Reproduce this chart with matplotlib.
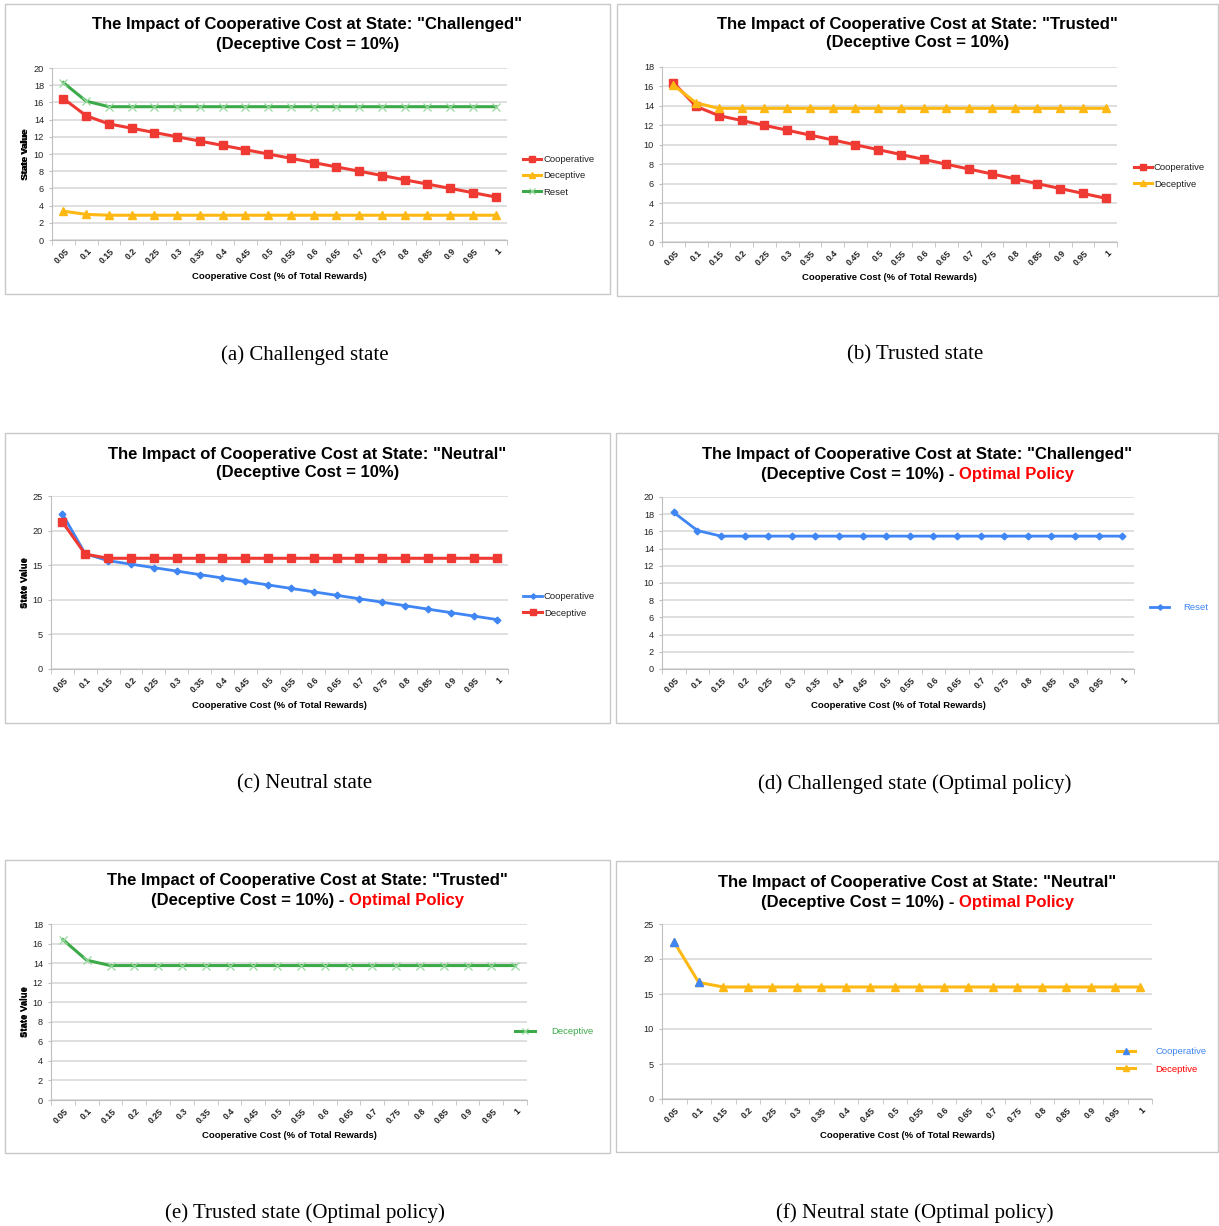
import matplotlib
matplotlib.use('Agg')
import matplotlib.pyplot as plt
import matplotlib.transforms as mtransforms
from matplotlib.lines import Line2D
from matplotlib.patches import Rectangle
from matplotlib.ticker import MultipleLocator

plt.rcParams['font.family'] = 'Liberation Sans'

costLabels = ['0.05', '0.1', '0.15', '0.2', '0.25', '0.3', '0.35', '0.4', '0.45', '0.5',
              '0.55', '0.6', '0.65', '0.7', '0.75', '0.8', '0.85', '0.9', '0.95', '1']

# state values for each action, one value per cooperative cost
challengedCoop = [16.45, 14.45, 13.5, 13.0, 12.5, 12.0, 11.5, 11.0, 10.5, 10.0,
                  9.5, 9.0, 8.5, 8.0, 7.5, 7.0, 6.5, 6.0, 5.5, 5.0]
challengedDecep = [3.35, 2.98, 2.88, 2.88, 2.88, 2.88, 2.88, 2.88, 2.88, 2.88,
                   2.88, 2.88, 2.88, 2.88, 2.88, 2.88, 2.88, 2.88, 2.88, 2.88]
challengedReset = [18.3, 16.15, 15.5, 15.5, 15.5, 15.5, 15.5, 15.5, 15.5, 15.5,
                   15.5, 15.5, 15.5, 15.5, 15.5, 15.5, 15.5, 15.5, 15.5, 15.5]

trustedCoop = [16.4, 13.95, 13.0, 12.5, 12.0, 11.5, 11.0, 10.5, 10.0, 9.5,
               9.0, 8.5, 8.0, 7.5, 7.0, 6.5, 6.0, 5.5, 5.0, 4.5]
trustedDecep = [16.15, 14.3, 13.75, 13.75, 13.75, 13.75, 13.75, 13.75, 13.75, 13.75,
                13.75, 13.75, 13.75, 13.75, 13.75, 13.75, 13.75, 13.75, 13.75, 13.75]

neutralCoop = [22.4, 16.65, 15.65, 15.15, 14.65, 14.15, 13.65, 13.15, 12.65, 12.15,
               11.65, 11.15, 10.65, 10.15, 9.65, 9.15, 8.65, 8.15, 7.65, 7.15]
neutralDecep = [21.25, 16.6, 16.0, 16.0, 16.0, 16.0, 16.0, 16.0, 16.0, 16.0,
                16.0, 16.0, 16.0, 16.0, 16.0, 16.0, 16.0, 16.0, 16.0, 16.0]

# values under the optimal policy
challengedOptimal = [18.2, 16.1, 15.45, 15.45, 15.45, 15.45, 15.45, 15.45, 15.45, 15.45,
                     15.45, 15.45, 15.45, 15.45, 15.45, 15.45, 15.45, 15.45, 15.45, 15.45]
trustedOptimal = [16.4, 14.3, 13.75, 13.75, 13.75, 13.75, 13.75, 13.75, 13.75, 13.75,
                  13.75, 13.75, 13.75, 13.75, 13.75, 13.75, 13.75, 13.75, 13.75, 13.75]
neutralOptimal = [22.4, 16.65, 16.0, 16.0, 16.0, 16.0, 16.0, 16.0, 16.0, 16.0,
                  16.0, 16.0, 16.0, 16.0, 16.0, 16.0, 16.0, 16.0, 16.0, 16.0]
neutralPolicy = ['Cooperative', 'Cooperative', 'Deceptive', 'Deceptive', 'Deceptive',
                 'Deceptive', 'Deceptive', 'Deceptive', 'Deceptive', 'Deceptive',
                 'Deceptive', 'Deceptive', 'Deceptive', 'Deceptive', 'Deceptive',
                 'Deceptive', 'Deceptive', 'Deceptive', 'Deceptive', 'Deceptive']

RED = '#EE3A33'
YELLOW = '#FDB813'
GREEN = '#3DAA4A'
LIGHTGREEN = '#96D89C'
BLUE = '#3F86F4'
GRID = '#D9D9D9'
AXIS = '#BFBFBF'

W, H = 1219, 1226
fig = plt.figure(figsize=(W / 100, H / 100), dpi=100)
renderer = fig.canvas.get_renderer()


def fx(px):
    return px / W


def fy(py):
    return 1 - py / H


def makeAxes(box, axRect, ymax, ystep):
    l, t, r, b = box
    fig.add_artist(Rectangle((fx(l), fy(b)), fx(r - l), (b - t) / H, transform=fig.transFigure,
                             facecolor='none', edgecolor='#C8C8C8', lw=1))
    al, at, ar, ab = axRect
    ax = fig.add_axes([fx(al), fy(ab), fx(ar - al), (ab - at) / H])
    ax.set_xlim(-0.5, len(costLabels) - 0.5)
    ax.set_ylim(0, ymax)
    ax.yaxis.set_major_locator(MultipleLocator(ystep))
    ax.grid(axis='y', color=GRID, lw=1.2)
    ax.set_axisbelow(True)
    for s in ['top', 'right']:
        ax.spines[s].set_visible(False)
    for s in ['left', 'bottom']:
        ax.spines[s].set_color(AXIS)
    ax.set_xticks(range(len(costLabels)), costLabels)
    ax.set_xticks([i - 0.5 for i in range(len(costLabels) + 1)], minor=True)
    ax.tick_params(axis='x', which='major', length=0, pad=7, labelsize=6.3, labelcolor='#222222')
    ax.tick_params(axis='x', which='minor', length=3.6, color=AXIS)
    ax.tick_params(axis='y', length=2.2, color=AXIS, pad=3.5, labelsize=6.6, labelcolor='#222222')
    shift = mtransforms.ScaledTranslation(3 / 72, 0, fig.dpi_scale_trans)
    for lab in ax.get_xticklabels():
        lab.set_rotation(45)
        lab.set_ha('right')
        lab.set_va('center')
        lab.set_rotation_mode('anchor')
        lab.set_fontweight('bold')
        lab.set_transform(lab.get_transform() + shift)
    ax.set_xlabel('Cooperative Cost (% of Total Rewards)', fontsize=6.8, fontweight='bold')
    ax.xaxis.label.set_va('center')
    ax.xaxis.set_label_coords(0.5, -36 / (ab - at))
    ax.set_ylabel('State Value', fontsize=6.8, fontweight='bold')
    ax.yaxis.label.set_va('center')
    ax.yaxis.set_label_coords(-(al - 25) / (ar - al), 0.5)
    return ax


def drawTitle(cx, y1, y2, state, optimal):
    fig.text(fx(cx), fy(y1), 'The Impact of Cooperative Cost at State: "%s"' % state,
             ha='center', va='center', fontsize=12, fontweight='bold')
    if not optimal:
        fig.text(fx(cx), fy(y2), '(Deceptive Cost = 10%)', ha='center', va='center',
                 fontsize=12, fontweight='bold')
        return
    black = fig.text(0, fy(y2), '(Deceptive Cost = 10%) -', ha='left', va='center',
                     fontsize=12, fontweight='bold')
    red = fig.text(0, fy(y2), 'Optimal Policy', ha='left', va='center',
                   fontsize=12, fontweight='bold', color='#FF0000')
    wb = black.get_window_extent(renderer).width
    wr = red.get_window_extent(renderer).width
    space = 0.278 * 12 * 100 / 72
    left = cx - (wb + space + wr) / 2
    black.set_x(fx(left))
    red.set_x(fx(left + wb + space))


def drawCaption(cx, y, text):
    fig.text(fx(cx), fy(y), text, ha='center', va='center', fontsize=15,
             family='Liberation Serif')


def placeLegend(ax, handles, labels, x0, x1, textX, rowYs, colors='#222222'):
    fs = 6.8
    fsPx = fs * 100 / 72
    centerY = sum(rowYs) / len(rowYs)
    spacing = (rowYs[1] - rowYs[0]) if len(rowYs) > 1 else 18
    ax.legend(handles, labels, loc='center left', bbox_to_anchor=(fx(x0), fy(centerY)),
              bbox_transform=fig.transFigure, frameon=False, fontsize=fs, borderpad=0,
              borderaxespad=0, handlelength=(x1 - x0) / fsPx, markerscale=0.8,
              handletextpad=(textX - x1) / fsPx,
              labelspacing=(spacing - 1.16 * fsPx) / fsPx, labelcolor=colors)


xs = list(range(len(costLabels)))


def coopLine(ax, vals):
    return ax.plot(xs, vals, color=RED, lw=2.2, marker='s', ms=5.4, label='Cooperative')[0]


def decepLine(ax, vals, color=YELLOW):
    return ax.plot(xs, vals, color=color, lw=2.2, marker='^', ms=5.5, label='Deceptive')[0]


def resetLine(ax, vals):
    return ax.plot(xs, vals, color=GREEN, lw=2.2, marker='x', ms=5.8, mew=0.9,
                   mec=LIGHTGREEN, label='Reset')[0]


# (a) Challenged state
ax = makeAxes((5, 4, 610, 294), (52, 68, 507, 240), 20, 2)
h = [coopLine(ax, challengedCoop), decepLine(ax, challengedDecep), resetLine(ax, challengedReset)]
placeLegend(ax, h, ['Cooperative', 'Deceptive', 'Reset'], 523, 541, 543, [158, 176, 194])
drawTitle(307.5, 25, 44, 'Challenged', False)
drawCaption(304.5, 355, '(a) Challenged state')

# (b) Trusted state
ax = makeAxes((617, 4, 1218, 296), (662, 67, 1117, 242), 18, 2)
h = [coopLine(ax, trustedCoop), decepLine(ax, trustedDecep)]
placeLegend(ax, h, ['Cooperative', 'Deceptive'], 1134, 1152, 1154, [167, 185])
drawTitle(917.5, 24, 43, 'Trusted', False)
drawCaption(915, 355, '(b) Trusted state')

# (c) Neutral state
ax = makeAxes((5, 433, 610, 723), (51, 496, 508, 669), 25, 5)
h = [ax.plot(xs, neutralCoop, color=BLUE, lw=2, marker='D', ms=3.4, label='Cooperative')[0]]
h.append(ax.plot(xs, neutralDecep, color=RED, lw=2.2, marker='s', ms=5.4, label='Deceptive')[0])
placeLegend(ax, h, ['Cooperative', 'Deceptive'], 523, 542, 544, [596, 614])
drawTitle(307.5, 454, 473, 'Neutral', False)
drawCaption(304.5, 784, '(c) Neutral state')

# (d) Challenged state, optimal policy
ax = makeAxes((616, 433, 1218, 723), (662, 497, 1134, 669), 20, 2)
h = [ax.plot(xs, challengedOptimal, color=BLUE, lw=2, marker='D', ms=3.4, label='Reset')[0]]
placeLegend(ax, h, ['Reset'], 1150, 1169, 1183, [608], [BLUE])
drawTitle(917.5, 454, 474, 'Challenged', True)
drawCaption(914.5, 784, '(d) Challenged state (Optimal policy)')

# (e) Trusted state, optimal policy
ax = makeAxes((5, 860, 610, 1153), (51, 924, 527, 1100), 18, 2)
h = [resetLine(ax, trustedOptimal)]
placeLegend(ax, h, ['Deceptive'], 515, 535, 551, [1032], [GREEN])
drawTitle(307.5, 881, 901, 'Trusted', True)
drawCaption(304.5, 1213, '(e) Trusted state (Optimal policy)')

# (f) Neutral state, optimal policy: marker colour shows the chosen action
ax = makeAxes((616, 861, 1218, 1152), (662, 924, 1152, 1099), 25, 5)
ax.plot(xs, neutralOptimal, color=YELLOW, lw=2.2, marker='^', ms=5.5)
coopIdx = [i for i, p in enumerate(neutralPolicy) if p == 'Cooperative']
ax.plot(coopIdx, [neutralOptimal[i] for i in coopIdx], ls='none', marker='^', ms=5.5,
        color=BLUE, mec=BLUE)
h = [Line2D([], [], color=YELLOW, lw=2.2, marker='^', ms=5.5, mfc=BLUE, mec=BLUE),
     Line2D([], [], color=YELLOW, lw=2.2, marker='^', ms=5.5)]
placeLegend(ax, h, ['Cooperative', 'Deceptive'], 1117, 1135, 1155, [1051, 1070], [BLUE, '#FF0000'])
drawTitle(917.5, 882, 902, 'Neutral', True)
drawCaption(915, 1213, '(f) Neutral state (Optimal policy)')

fig.savefig('out.png', dpi=100)
